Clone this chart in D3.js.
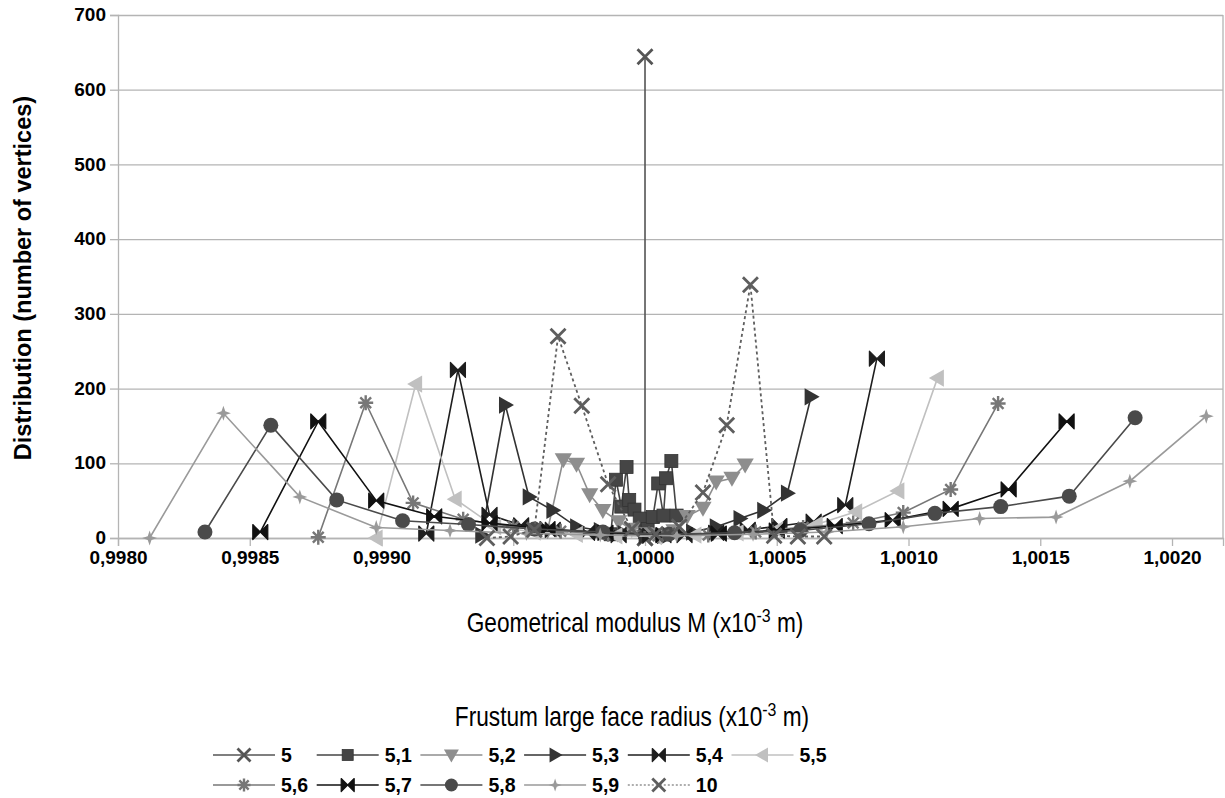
<!DOCTYPE html>
<html>
<head>
<meta charset="utf-8">
<script src="https://cdn.jsdelivr.net/npm/d3@7"></script>
<style>
  body { margin: 0; background: #fff; }
  svg { display: block; }
  .tick text { font-family: "Liberation Sans", Arial, sans-serif; font-weight: bold; font-size: 19px; fill: #000; }
  .narrow { font-family: "Liberation Sans", Arial, sans-serif; }
</style>
</head>
<body>
<div id="chart"></div>
<script>
// data
var seriesNames = ["5", "5,1", "5,2", "5,3", "5,4", "5,5", "5,6", "5,7", "5,8", "5,9", "10"];

var x5 = [1.0000, 1.0000, 1.0000];
var y5 = [0, 644, 0];

var x51 = [0.99987, 0.99989, 0.99991, 0.99993, 0.99994, 0.99996, 0.99998, 1.00000, 1.00001, 1.00003, 1.00005, 1.00007, 1.00008, 1.00010, 1.00012];
var y51 = [5, 78, 42, 95, 51, 38, 26, 8, 12, 28, 73, 30, 80, 103, 30];

var x52 = [0.99963, 0.99969, 0.99974, 0.99979, 0.99984, 0.99990, 0.99995, 1.00000, 1.00006, 1.00011, 1.00016, 1.00022, 1.00027, 1.00033, 1.00038];
var y52 = [10, 105, 99, 58, 37, 22, 12, 6, 5, 10, 29, 40, 75, 80, 98];

var x53 = [0.99938, 0.99947, 0.99956, 0.99965, 0.99974, 0.99983, 0.99992, 1.00000, 1.00009, 1.00018, 1.00027, 1.00036, 1.00045, 1.00054, 1.00063];
var y53 = [4, 178, 55, 37, 15, 10, 6, 3, 4, 8, 15, 26, 37, 60, 189];

var x54 = [0.99917, 0.99929, 0.99941, 0.99953, 0.99965, 0.99978, 0.99990, 1.00002, 1.00015, 1.00027, 1.00039, 1.00051, 1.00064, 1.00076, 1.00088];
var y54 = [6, 225, 31, 17, 11, 7, 4, 3, 4, 7, 11, 16, 22, 44, 240];

var x55 = [0.99898, 0.99913, 0.99928, 0.99943, 0.99958, 0.99974, 0.99989, 1.00004, 1.00019, 1.00035, 1.00050, 1.00065, 1.00080, 1.00096, 1.00111];
var y55 = [0, 206, 52, 15, 8, 5, 3, 2, 4, 7, 11, 18, 35, 63, 214];

var x56 = [0.99876, 0.99894, 0.99912, 0.99931, 0.99950, 0.99968, 0.99986, 1.00005, 1.00024, 1.00042, 1.00060, 1.00079, 1.00098, 1.00116, 1.00134];
var y56 = [1, 181, 47, 25, 15, 9, 5, 3, 4, 8, 14, 20, 34, 65, 180];

var x57 = [0.99854, 0.99876, 0.99898, 0.99920, 0.99941, 0.99963, 0.99985, 1.00007, 1.00028, 1.00050, 1.00072, 1.00094, 1.00116, 1.00138, 1.00160];
var y57 = [8, 156, 50, 29, 20, 12, 7, 4, 6, 10, 16, 24, 39, 65, 156];

var x58 = [0.99833, 0.99858, 0.99883, 0.99908, 0.99933, 0.99958, 0.99984, 1.00009, 1.00034, 1.00059, 1.00085, 1.00110, 1.00135, 1.00161, 1.00186];
var y58 = [8, 151, 51, 23, 18, 12, 8, 5, 7, 10, 19, 33, 42, 56, 161];

var x59 = [0.99812, 0.99840, 0.99869, 0.99898, 0.99926, 0.99955, 0.99983, 1.00012, 1.00041, 1.00069, 1.00098, 1.00127, 1.00156, 1.00184, 1.00213];
var y59 = [0, 167, 55, 14, 10, 6, 4, 3, 5, 8, 15, 26, 28, 76, 163];

var x10 = [0.99940, 0.99949, 0.99958, 0.99967, 0.99976, 0.99986, 0.99995, 1.00004, 1.00013, 1.00022, 1.00031, 1.00040, 1.00049, 1.00058, 1.00068];
var y10 = [0, 2, 11, 270, 177, 72, 12, 5, 15, 61, 151, 339, 3, 2, 2];

var xTicks = [0.9980, 0.9985, 0.9990, 0.9995, 1.0000, 1.0005, 1.0010, 1.0015, 1.0020];
var yTicks = [0, 100, 200, 300, 400, 500, 600, 700];

var xsAll = [x5, x51, x52, x53, x54, x55, x56, x57, x58, x59, x10];
var ysAll = [y5, y51, y52, y53, y54, y55, y56, y57, y58, y59, y10];

// look of each series
var colors = ["#555", "#454545", "#8e8e8e", "#333", "#1e1e1e", "#c0c0c0", "#777", "#111", "#4a4a4a", "#9a9a9a", "#5e5e5e"];
var shapes = ["x", "square", "down", "right", "bowtie", "left", "aster", "bowtie", "circle", "star", "x"];

var width = 1225, height = 798;
var plot = {left: 118, right: 1223, top: 15, bottom: 538};

var svg = d3.select("#chart").append("svg")
  .attr("width", width)
  .attr("height", height);

var x = d3.scaleLinear()
  .domain([0.998, 1.0021935])
  .range([plot.left, plot.right]);
var y = d3.scaleLinear()
  .domain([0, 700])
  .range([plot.bottom, plot.top]);

function fmt(d) { return d3.format(".4f")(d).replace(".", ","); }

// grid
svg.append("g")
  .attr("transform", "translate(" + plot.left + ",0)")
  .call(d3.axisLeft(y).tickValues(yTicks).tickSize(-(plot.right - plot.left)).tickFormat(""))
  .call(g => g.select(".domain").remove())
  .selectAll("line").attr("stroke", "#b4b4b4").attr("stroke-width", 1.3);

// frame right
svg.append("line")
  .attr("x1", plot.right).attr("x2", plot.right)
  .attr("y1", plot.top).attr("y2", plot.bottom)
  .attr("stroke", "#b4b4b4").attr("stroke-width", 1.3);

var yAxis = svg.append("g")
  .attr("transform", "translate(" + plot.left + ",0)")
  .call(d3.axisLeft(y).tickValues(yTicks).tickSize(8).tickPadding(4));
yAxis.select(".domain").attr("stroke", "#b4b4b4").attr("stroke-width", 1.3);
yAxis.selectAll(".tick line").attr("stroke", "#b4b4b4").attr("stroke-width", 1.3);
yAxis.selectAll(".tick text").attr("dy", "0.3em");

var xAxis = svg.append("g")
  .attr("transform", "translate(0," + plot.bottom + ")")
  .call(d3.axisBottom(x).tickValues(xTicks).tickSize(8).tickPadding(5).tickFormat(fmt));
xAxis.select(".domain").attr("stroke", "#b4b4b4").attr("stroke-width", 1.3);
xAxis.selectAll(".tick line").attr("stroke", "#b4b4b4").attr("stroke-width", 1.3);

// marker shapes
function marker(g, shape, color, s) {
  if (shape == "x") {
    g.append("path").attr("d", "M" + (-s) + "," + (-s) + "L" + s + "," + s + "M" + (-s) + "," + s + "L" + s + "," + (-s))
      .attr("stroke", color).attr("stroke-width", 2.8).attr("fill", "none");
  } else if (shape == "square") {
    g.append("rect").attr("x", -s).attr("y", -s).attr("width", 2 * s).attr("height", 2 * s)
      .attr("fill", color).attr("stroke", "#333").attr("stroke-width", 0.8);
  } else if (shape == "down") {
    g.append("path").attr("d", "M" + (-s * 1.15) + "," + (-s * 0.85) + "L" + (s * 1.15) + "," + (-s * 0.85) + "L0," + (s * 1.15) + "Z").attr("fill", color);
  } else if (shape == "right") {
    g.append("path").attr("d", "M" + (-s * 0.85) + "," + (-s * 1.15) + "L" + (s * 1.15) + ",0L" + (-s * 0.85) + "," + (s * 1.15) + "Z").attr("fill", color);
  } else if (shape == "left") {
    g.append("path").attr("d", "M" + (s * 0.85) + "," + (-s * 1.15) + "L" + (-s * 1.15) + ",0L" + (s * 0.85) + "," + (s * 1.15) + "Z").attr("fill", color);
  } else if (shape == "bowtie") {
    g.append("path").attr("d", "M" + (-s) + "," + (-s) + "L0,0L" + (-s) + "," + s + "Z" + "M" + s + "," + (-s) + "L0,0L" + s + "," + s + "Z")
      .attr("fill", color).attr("stroke", color).attr("stroke-width", 1.2).attr("stroke-linejoin", "round");
  } else if (shape == "circle") {
    g.append("circle").attr("r", s).attr("fill", color);
  } else if (shape == "aster") {
    var d = "", a = s * 0.72;
    d += "M0," + (-s) + "L0," + s + "M" + (-s) + ",0L" + s + ",0";
    d += "M" + (-a) + "," + (-a) + "L" + a + "," + a + "M" + (-a) + "," + a + "L" + a + "," + (-a);
    g.append("path").attr("d", d).attr("stroke", color).attr("stroke-width", 2.4).attr("fill", "none");
  } else if (shape == "star") {
    var t = s * 0.25;
    g.append("path").attr("d", "M0," + (-s) + "L" + t + "," + (-t) + "L" + s + ",0L" + t + "," + t + "L0," + s + "L" + (-t) + "," + t + "L" + (-s) + ",0L" + (-t) + "," + (-t) + "Z")
      .attr("fill", color);
  }
}

var line = d3.line().x(d => x(d[0])).y(d => y(d[1]));

// series, drawn one after another
seriesNames.forEach(function(name, i) {
  var pts = xsAll[i].map((v, k) => [v, ysAll[i][k]]);
  var g = svg.append("g").attr("class", "series");
  g.append("path")
    .datum(pts)
    .attr("d", line)
    .attr("fill", "none")
    .attr("stroke", colors[i])
    .attr("stroke-width", i == 10 ? 1.8 : 1.6)
    .attr("stroke-dasharray", i == 10 ? "3,3" : null);
  g.selectAll("g.m")
    .data(pts)
    .enter().append("g")
    .attr("class", "m")
    .attr("transform", d => "translate(" + x(d[0]) + "," + y(d[1]) + ")")
    .each(function() { marker(d3.select(this), shapes[i], colors[i], shapes[i] == "square" ? 6.5 : 7.5); });
});

// titles
svg.append("text")
  .attr("transform", "translate(31,278) rotate(-90)")
  .attr("text-anchor", "middle")
  .style("font-family", "Liberation Sans, Arial, sans-serif")
  .style("font-weight", "bold")
  .style("font-size", "23.5px")
  .text("Distribution (number of vertices)");

// narrow titles: Liberation Sans squeezed horizontally
var xt = svg.append("text")
  .attr("class", "narrow")
  .attr("transform", "translate(635,632) scale(0.84,1)")
  .attr("text-anchor", "middle")
  .style("font-size", "27px");
xt.append("tspan").text("Geometrical modulus M (x10");
xt.append("tspan").attr("dy", -10).style("font-size", "19px").text("-3");
xt.append("tspan").attr("dy", 10).text(" m)");

var lt = svg.append("text")
  .attr("class", "narrow")
  .attr("transform", "translate(632,726) scale(0.84,1)")
  .attr("text-anchor", "middle")
  .style("font-size", "27px");
lt.append("tspan").text("Frustum large face radius (x10");
lt.append("tspan").attr("dy", -10).style("font-size", "19px").text("-3");
lt.append("tspan").attr("dy", 10).text(" m)");

// legend
var legend = svg.append("g");
seriesNames.forEach(function(name, i) {
  var col = i < 6 ? i : i - 6;
  var row = i < 6 ? 0 : 1;
  var x0 = 213 + col * 103.7;
  var y0 = 755 + row * 30;
  var item = legend.append("g").attr("transform", "translate(" + x0 + "," + y0 + ")");
  item.append("line")
    .attr("x1", 0).attr("x2", 62).attr("y1", 0).attr("y2", 0)
    .attr("stroke", colors[i]).attr("stroke-width", i == 10 ? 1.2 : 1.6)
    .attr("stroke-dasharray", i == 10 ? "2,2" : null);
  var mg = item.append("g").attr("transform", "translate(31,0)");
  marker(mg, shapes[i], colors[i], shapes[i] == "square" ? 5.5 : 6.5);
  item.append("text")
    .attr("x", 68).attr("y", 7)
    .style("font-family", "Liberation Sans, Arial, sans-serif")
    .style("font-weight", "bold")
    .style("font-size", "19.5px")
    .text(name);
});
</script>
</body>
</html>
